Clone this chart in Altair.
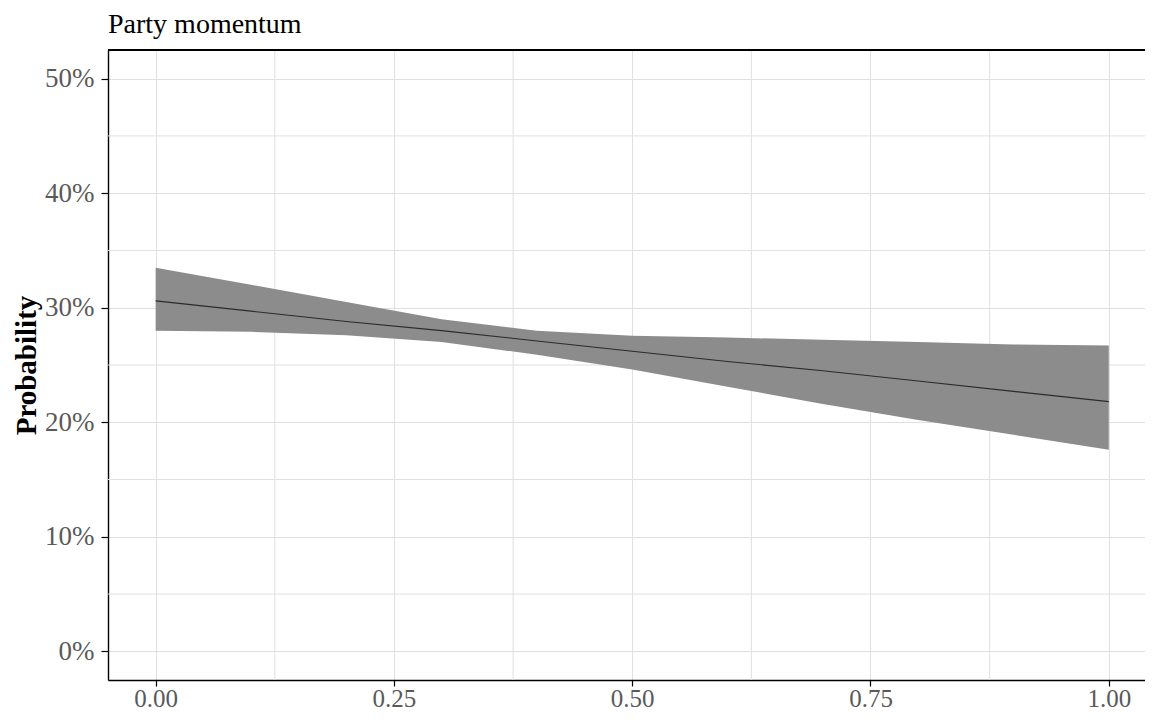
import altair as alt
import pandas as pd

# ---- data ----
title_text = "Party momentum"
x_vals = [0.0, 0.1, 0.2, 0.3, 0.4, 0.5, 0.6, 0.7, 0.8, 0.9, 1.0]
fit = [0.306, 0.297, 0.288, 0.280, 0.271, 0.262, 0.253, 0.245, 0.236, 0.227, 0.218]
upper = [0.335, 0.320, 0.305, 0.290, 0.280, 0.2755, 0.274, 0.272, 0.270, 0.268, 0.267]
lower = [0.280, 0.279, 0.276, 0.270, 0.259, 0.246, 0.231, 0.216, 0.202, 0.189, 0.176]

x_ticks = [0.0, 0.25, 0.5, 0.75, 1.0]
x_minor = [0.125, 0.375, 0.625, 0.875]
y_ticks = [0.0, 0.1, 0.2, 0.3, 0.4, 0.5]
y_minor = [0.05, 0.15, 0.25, 0.35, 0.45]

df = pd.DataFrame({"x": x_vals, "fit": fit, "upper": upper, "lower": lower})
xm = pd.DataFrame({"v": x_minor})
ym = pd.DataFrame({"v": y_minor})
tdf = pd.DataFrame({"t": [title_text]})

FONT = "Liberation Serif"
GRID = "#E0E0E0"
LABEL = "#5A5A5A"

xs = alt.Scale(domain=[-0.05, 1.038], nice=False, zero=False)
ys = alt.Scale(domain=[-0.025, 0.525], nice=False, zero=False)

x_axis = alt.Axis(values=x_ticks, format=".2f", grid=True, gridColor=GRID, gridWidth=1,
                  domainColor="black", domainWidth=1.4, tickColor="black", tickWidth=1.2,
                  tickSize=6, labelFont=FONT, labelFontSize=25, labelColor=LABEL,
                  labelPadding=0, title=None)
y_axis = alt.Axis(values=y_ticks, format=".0%", grid=True, gridColor=GRID, gridWidth=1,
                  domainColor="black", domainWidth=1.4, tickColor="black", tickWidth=1.2,
                  tickSize=7, labelFont=FONT, labelFontSize=27, labelColor=LABEL,
                  labelPadding=7, title="Probability", titleFont=FONT, titleFontSize=29,
                  titleFontWeight="bold", titleColor="black", titleAngle=270,
                  titleX=-73, titleY=315, titleAlign="center", titleBaseline="alphabetic")

minor_x = alt.Chart(xm).mark_rule(color=GRID, strokeWidth=1).encode(
    x=alt.X("v:Q", scale=xs, axis=x_axis)
)
minor_y = alt.Chart(ym).mark_rule(color=GRID, strokeWidth=1).encode(
    y=alt.Y("v:Q", scale=ys, axis=y_axis)
)
band = alt.Chart(df).mark_area(color="#8C8C8C", opacity=1).encode(
    x=alt.X("x:Q", scale=xs, axis=x_axis),
    y=alt.Y("lower:Q", scale=ys, axis=y_axis),
    y2="upper:Q",
)
line = alt.Chart(df).mark_line(color="#2B2B2B", strokeWidth=1.1).encode(
    x=alt.X("x:Q", scale=xs, axis=x_axis),
    y=alt.Y("fit:Q", scale=ys, axis=y_axis),
)
top_border = alt.Chart(df).mark_rule(color="black", strokeWidth=1.4).encode(
    y=alt.value(0)
)
title = alt.Chart(tdf).mark_text(
    align="left", baseline="alphabetic", font=FONT, fontSize=28, color="black"
).encode(text="t:N", x=alt.value(0), y=alt.value(-17))

chart = alt.layer(minor_x, minor_y, band, line, top_border, title).properties(
    width=1037,
    height=630,
    padding={"left": 100, "top": 42, "right": 0, "bottom": 32},
    autosize=alt.AutoSizeParams(type="none"),
).configure_view(fill="#EBEBEB", stroke=None).configure(background="white")

chart.save("out.html", embed_options={"renderer": "svg", "actions": False})
